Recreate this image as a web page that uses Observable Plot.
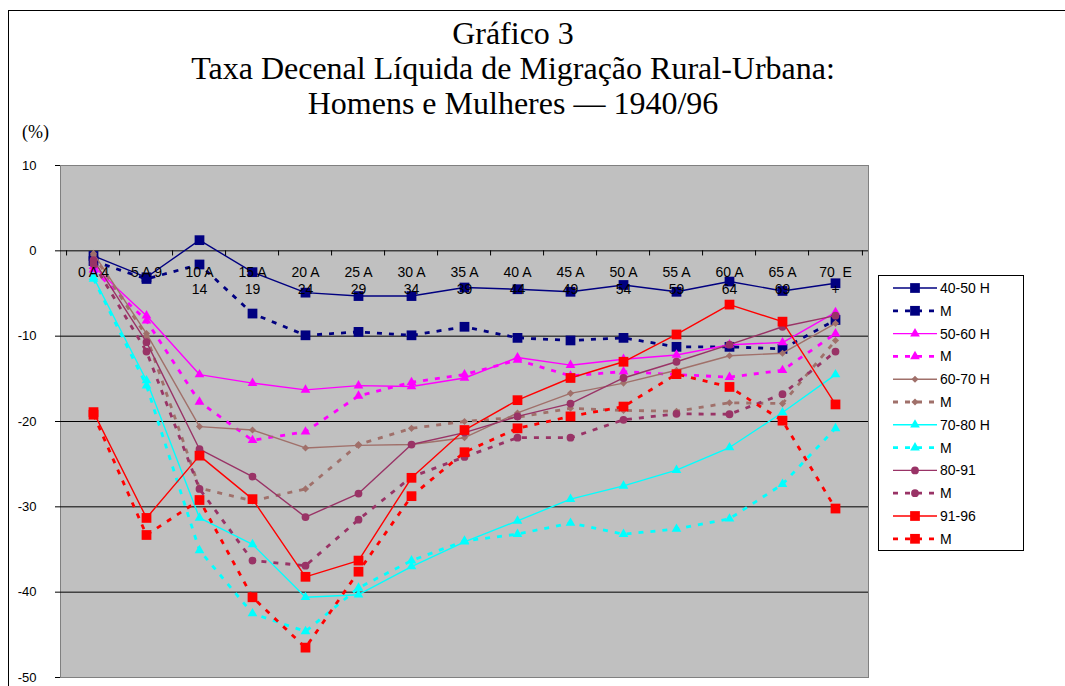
<!DOCTYPE html>
<html>
<head>
<meta charset="utf-8">
<script src="https://cdn.jsdelivr.net/npm/d3@7"></script>
<script src="https://cdn.jsdelivr.net/npm/@observablehq/plot@0.6"></script>
<style>
  html, body { margin: 0; padding: 0; background: #fff; }
  #wrap { position: relative; width: 1065px; height: 686px; overflow: hidden; }
  #border { position: absolute; left: 8px; top: 10px; width: 1100px; height: 700px; border: 1px solid #000; box-sizing: border-box; }
  .title { position: absolute; left: 0; width: 1026px; text-align: center; font-family: "Liberation Serif", "Times New Roman", serif; font-size: 32px; color: #000; line-height: 1; white-space: nowrap; }
  #pct { position: absolute; left: 22px; top: 122px; font-family: "Liberation Serif", "Times New Roman", serif; font-size: 18px; }
  #chart { position: absolute; left: 0; top: 0; }
  #legend { position: absolute; left: 878px; top: 275px; }
</style>
</head>
<body>
<div id="wrap">
  <div id="border"></div>
  <div id="chart"></div>
  <div class="title" style="top:17px">Gráfico 3</div>
  <div class="title" style="top:52px">Taxa Decenal Líquida de Migração Rural-Urbana:</div>
  <div class="title" style="top:87px">Homens e Mulheres — 1940/96</div>
  <div id="pct">(%)</div>
  <div id="legend"></div>
</div>
<script>
// ---- Data ----
const categories = ["0 A 4","5 A 9","10 A 14","15 A 19","20 A 24","25 A 29","30 A 34","35 A 39","40 A 44","45 A 49","50 A 54","55 A 59","60 A 64","65 A 69","70 E +"];
const labelLine1 = ["0 A 4","5 A 9","10 A","15 A","20 A","25 A","30 A","35 A","40 A","45 A","50 A","55 A","60 A","65 A","70  E"];
const labelLine2 = ["","","14","19","24","29","34","39","44","49","54","59","64","69","+"];
const yTicks = [10, 0, -10, -20, -30, -40, -50];
const gridValues = [0, -10, -20, -30, -40];

const h4050 = [-0.6,-3.1,1.25,-2.5,-4.9,-5.3,-5.3,-4.3,-4.5,-4.8,-4.0,-4.8,-3.6,-4.7,-3.8];
const m4050 = [-1.2,-3.3,-1.6,-7.35,-9.9,-9.5,-9.9,-8.9,-10.2,-10.5,-10.2,-11.25,-11.25,-11.5,-8.1];
const h5060 = [-1.8,-7.6,-14.5,-15.5,-16.3,-15.8,-15.9,-14.9,-12.5,-13.4,-12.7,-12.2,-11.0,-10.75,-7.2];
const m5060 = [-2.2,-8.2,-17.7,-22.2,-21.2,-17.0,-15.4,-14.5,-12.8,-14.65,-14.15,-14.5,-14.8,-14.0,-9.7];
const h6070 = [-0.3,-9.7,-20.6,-21.0,-23.1,-22.8,-22.7,-21.9,-19.0,-16.7,-15.5,-14.0,-12.3,-12.0,-8.5];
const m6070 = [-0.5,-10.0,-27.8,-29.3,-27.9,-22.7,-20.8,-20.0,-19.5,-18.45,-18.7,-18.8,-17.8,-17.9,-10.5];
const h7080 = [-3.1,-15.2,-31.3,-34.4,-40.6,-40.3,-37.0,-34.1,-31.65,-29.1,-27.55,-25.7,-23.05,-18.95,-14.5];
const m7080 = [-3.3,-15.8,-35.1,-42.5,-44.6,-39.5,-36.3,-34.0,-33.2,-31.9,-33.2,-32.6,-31.4,-27.35,-20.8];
const h8091 = [-1.1,-10.7,-23.25,-26.45,-31.2,-28.45,-22.7,-21.3,-19.4,-17.9,-14.9,-13.0,-11.0,-8.9,-7.6];
const m8091 = [-1.5,-11.8,-27.9,-36.3,-36.9,-31.5,-26.5,-24.15,-21.9,-21.9,-19.8,-19.1,-19.15,-16.8,-11.8];
const h9196 = [-18.9,-31.3,-24.0,-29.1,-38.2,-36.3,-26.6,-21.0,-17.5,-14.9,-13.0,-9.8,-6.3,-8.3,-18.0];
const m9196 = [-19.2,-33.3,-29.2,-40.6,-46.5,-37.6,-28.75,-23.6,-20.8,-19.4,-18.25,-14.45,-15.95,-19.9,-30.2];

const seriesNames = ["40-50 H","M","50-60 H","M","60-70 H","M","70-80 H","M","80-91","M","91-96","M"];
const seriesValues = [h4050,m4050,h5060,m5060,h6070,m6070,h7080,m7080,h8091,m8091,h9196,m9196];
const seriesColors = ["#000080","#000080","#FF00FF","#FF00FF","#A0706A","#A0706A","#00FFFF","#00FFFF","#993366","#993366","#FF0000","#FF0000"];
const seriesSymbols = ["square","square","triangle","triangle","diamond2","diamond2","triangle","triangle","circle","circle","square","square"];
const seriesDashed = [false,true,false,true,false,true,false,true,false,true,false,true];

// ---- Styles ----
const symbolR = {square: 5.5, triangle: 3.6, diamond2: 3.2, circle: 3.9};
const W = 1065, H = 686, mL = 60, mR = 197, mT = 165, mB = 9;
const step = (W - mL - mR) / categories.length;

const marks = [
  Plot.frame({fill: "#C0C0C0", stroke: "#808080"}),
  Plot.ruleY(gridValues, {stroke: "#000", strokeWidth: 1})
];

seriesValues.forEach((vals, s) => {
  const data = categories.map((c, i) => ({cat: c, v: vals[i]}));
  marks.push(Plot.line(data, {
    x: "cat", y: "v", stroke: seriesColors[s],
    strokeWidth: seriesDashed[s] ? 2.8 : 1.4,
    strokeDasharray: seriesDashed[s] ? "5,7" : null,
    strokeLinecap: "butt", strokeLinejoin: "miter"
  }));
  marks.push(Plot.dot(data, {
    x: "cat", y: "v", symbol: () => seriesSymbols[s], fill: seriesColors[s], stroke: "none",
    r: symbolR[seriesSymbols[s]]
  }));
});

// x axis ticks at band edges, along the zero line
marks.push(Plot.ruleX(categories, {x: d => d, y1: 0, y2: -0.6, dx: -step / 2, stroke: "#000"}));
marks.push(Plot.ruleX([categories[categories.length - 1]], {x: d => d, y1: 0, y2: -0.6, dx: step / 2, stroke: "#000"}));
// x labels at the zero line
marks.push(Plot.text(categories, {x: d => d, y: () => 0, text: (d, i) => labelLine1[i], dy: 22, fill: "#000", fontSize: 14}));
marks.push(Plot.text(categories, {x: d => d, y: () => 0, text: (d, i) => labelLine2[i], dy: 39, fill: "#000", fontSize: 14}));

const chart = Plot.plot({
  width: W, height: H,
  marginLeft: mL, marginRight: mR, marginTop: mT, marginBottom: mB,
  style: {fontFamily: "'Liberation Sans', Arial, sans-serif", fontSize: "13px", color: "#000", background: "transparent", overflow: "visible"},
  x: {type: "point", domain: categories, padding: 0.5, axis: null},
  y: {domain: [-50, 10], ticks: yTicks, tickSize: 5, tickPadding: 19, label: null, tickFormat: d => String(d)},
  symbol: {type: "identity"},
  marks
});
document.getElementById("chart").appendChild(chart);

// ---- Legend ----
const lg = d3.select("#legend").append("svg").attr("width", 147).attr("height", 277);
lg.append("rect").attr("x", 0.5).attr("y", 0.5).attr("width", 145).attr("height", 275)
  .attr("fill", "#fff").attr("stroke", "#000");
const symMap = {square: d3.symbolSquare, triangle: d3.symbolTriangle, diamond2: d3.symbolDiamond2, circle: d3.symbolCircle};
seriesNames.forEach((name, s) => {
  const cy = 13 + s * 22.8;
  lg.append("line").attr("x1", 15).attr("x2", 59).attr("y1", cy).attr("y2", cy)
    .attr("stroke", seriesColors[s]).attr("stroke-width", seriesDashed[s] ? 2.8 : 1.4)
    .attr("stroke-dasharray", seriesDashed[s] ? "5,7" : null);
  const r = symbolR[seriesSymbols[s]];
  lg.append("path").attr("transform", `translate(37,${cy})`)
    .attr("d", d3.symbol(symMap[seriesSymbols[s]], Math.PI * r * r)())
    .attr("fill", seriesColors[s]);
  lg.append("text").attr("x", 62).attr("y", cy).attr("dy", "0.36em")
    .attr("font-family", "'Liberation Sans', Arial, sans-serif").attr("font-size", 14)
    .attr("fill", "#000").text(name);
});
</script>
</body>
</html>
